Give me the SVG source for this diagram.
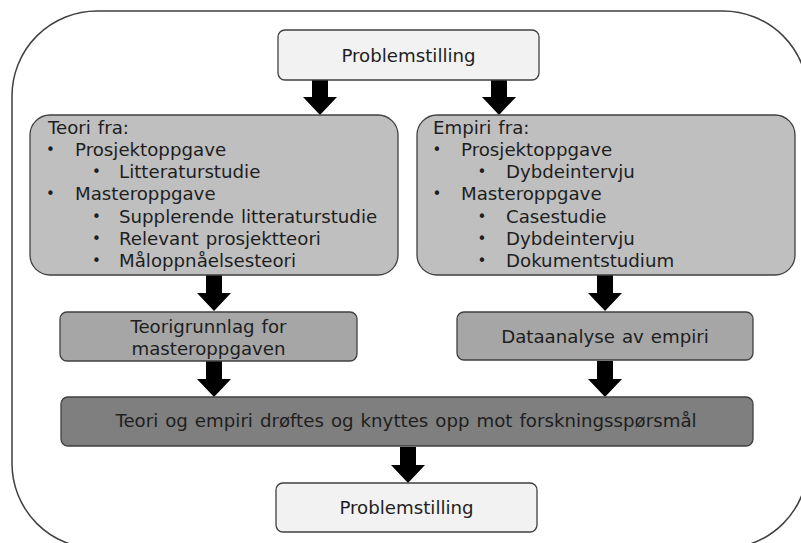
<svg xmlns="http://www.w3.org/2000/svg" xmlns:xlink="http://www.w3.org/1999/xlink" width="801" height="543" viewBox="0 0 801 543">
<defs>
<style>
.frame{fill:#ffffff;stroke:#404040;stroke-width:1.5}
.box{stroke:#404040;stroke-width:1.3}
.light{fill:#f2f2f2}
.big{fill:#bfbfbf}
.mid{fill:#a6a6a6}
.dark{fill:#7f7f7f}
text{font-family:"DejaVu Sans",Verdana,sans-serif;font-size:18.2px;word-spacing:1.2px;fill:#1e1e1e}
text.b{font-size:15px}
.c{text-anchor:middle}
.arrow{fill:#000000}
</style>
<path id="arr" d="M-8,0 H8 V18 H17 L0,36 L-17,18 H-8 Z"/>
</defs>
<rect width="801" height="543" fill="#ffffff"/>
<rect class="frame" x="12" y="11" width="796" height="537.5" rx="85" ry="85"/>

<g id="connectors" class="arrow">
<use xlink:href="#arr" x="320" y="79"/>
<use xlink:href="#arr" x="499" y="79"/>
<use xlink:href="#arr" x="214" y="275"/>
<use xlink:href="#arr" x="605" y="275"/>
<use xlink:href="#arr" x="214" y="361"/>
<use xlink:href="#arr" x="605" y="361"/>
<use xlink:href="#arr" x="408" y="447"/>
</g>

<g id="problem-top">
<rect class="box light" x="278" y="30" width="261" height="50" rx="7"/>
<text class="c" x="408.5" y="62">Problemstilling</text>
</g>

<g id="teori">
<rect class="box big" x="30" y="115" width="368" height="160" rx="20"/>
<text x="48" y="133.5">Teori fra:</text>
<text class="b" x="46" y="154.8">•</text><text x="75" y="155.8">Prosjektoppgave</text>
<text class="b" x="92" y="177">•</text><text x="119" y="178">Litteraturstudie</text>
<text class="b" x="46" y="199.3">•</text><text x="75" y="200.3">Masteroppgave</text>
<text class="b" x="92" y="221.6">•</text><text x="119" y="222.6">Supplerende litteraturstudie</text>
<text class="b" x="92" y="244">•</text><text x="119" y="245">Relevant prosjektteori</text>
<text class="b" x="92" y="266">•</text><text x="119" y="267">Måloppnåelsesteori</text>
</g>

<g id="empiri">
<rect class="box big" x="417" y="115" width="378" height="160" rx="20"/>
<text x="433" y="133.5">Empiri fra:</text>
<text class="b" x="432.5" y="154.8">•</text><text x="461" y="155.8">Prosjektoppgave</text>
<text class="b" x="477.5" y="177">•</text><text x="506" y="178">Dybdeintervju</text>
<text class="b" x="432.5" y="199.3">•</text><text x="461" y="200.3">Masteroppgave</text>
<text class="b" x="477.5" y="221.6">•</text><text x="506" y="222.6">Casestudie</text>
<text class="b" x="477.5" y="244">•</text><text x="506" y="245">Dybdeintervju</text>
<text class="b" x="477.5" y="266">•</text><text x="506" y="267">Dokumentstudium</text>
</g>

<g id="teorigrunnlag">
<rect class="box mid" x="60" y="312" width="297" height="49" rx="7"/>
<text class="c" x="208.5" y="332.7">Teorigrunnlag for</text>
<text class="c" x="208.5" y="354.8">masteroppgaven</text>
</g>

<g id="dataanalyse">
<rect class="box mid" x="457" y="312" width="296" height="48" rx="7"/>
<text class="c" x="605" y="343">Dataanalyse av empiri</text>
</g>

<g id="drofting">
<rect class="box dark" x="61" y="397" width="692" height="49" rx="7"/>
<text class="c" x="406" y="427">Teori og empiri drøftes og knyttes opp mot forskningsspørsmål</text>
</g>

<g id="problem-bottom">
<rect class="box light" x="276" y="483" width="261" height="49" rx="7"/>
<text class="c" x="406.5" y="514">Problemstilling</text>
</g>
</svg>
